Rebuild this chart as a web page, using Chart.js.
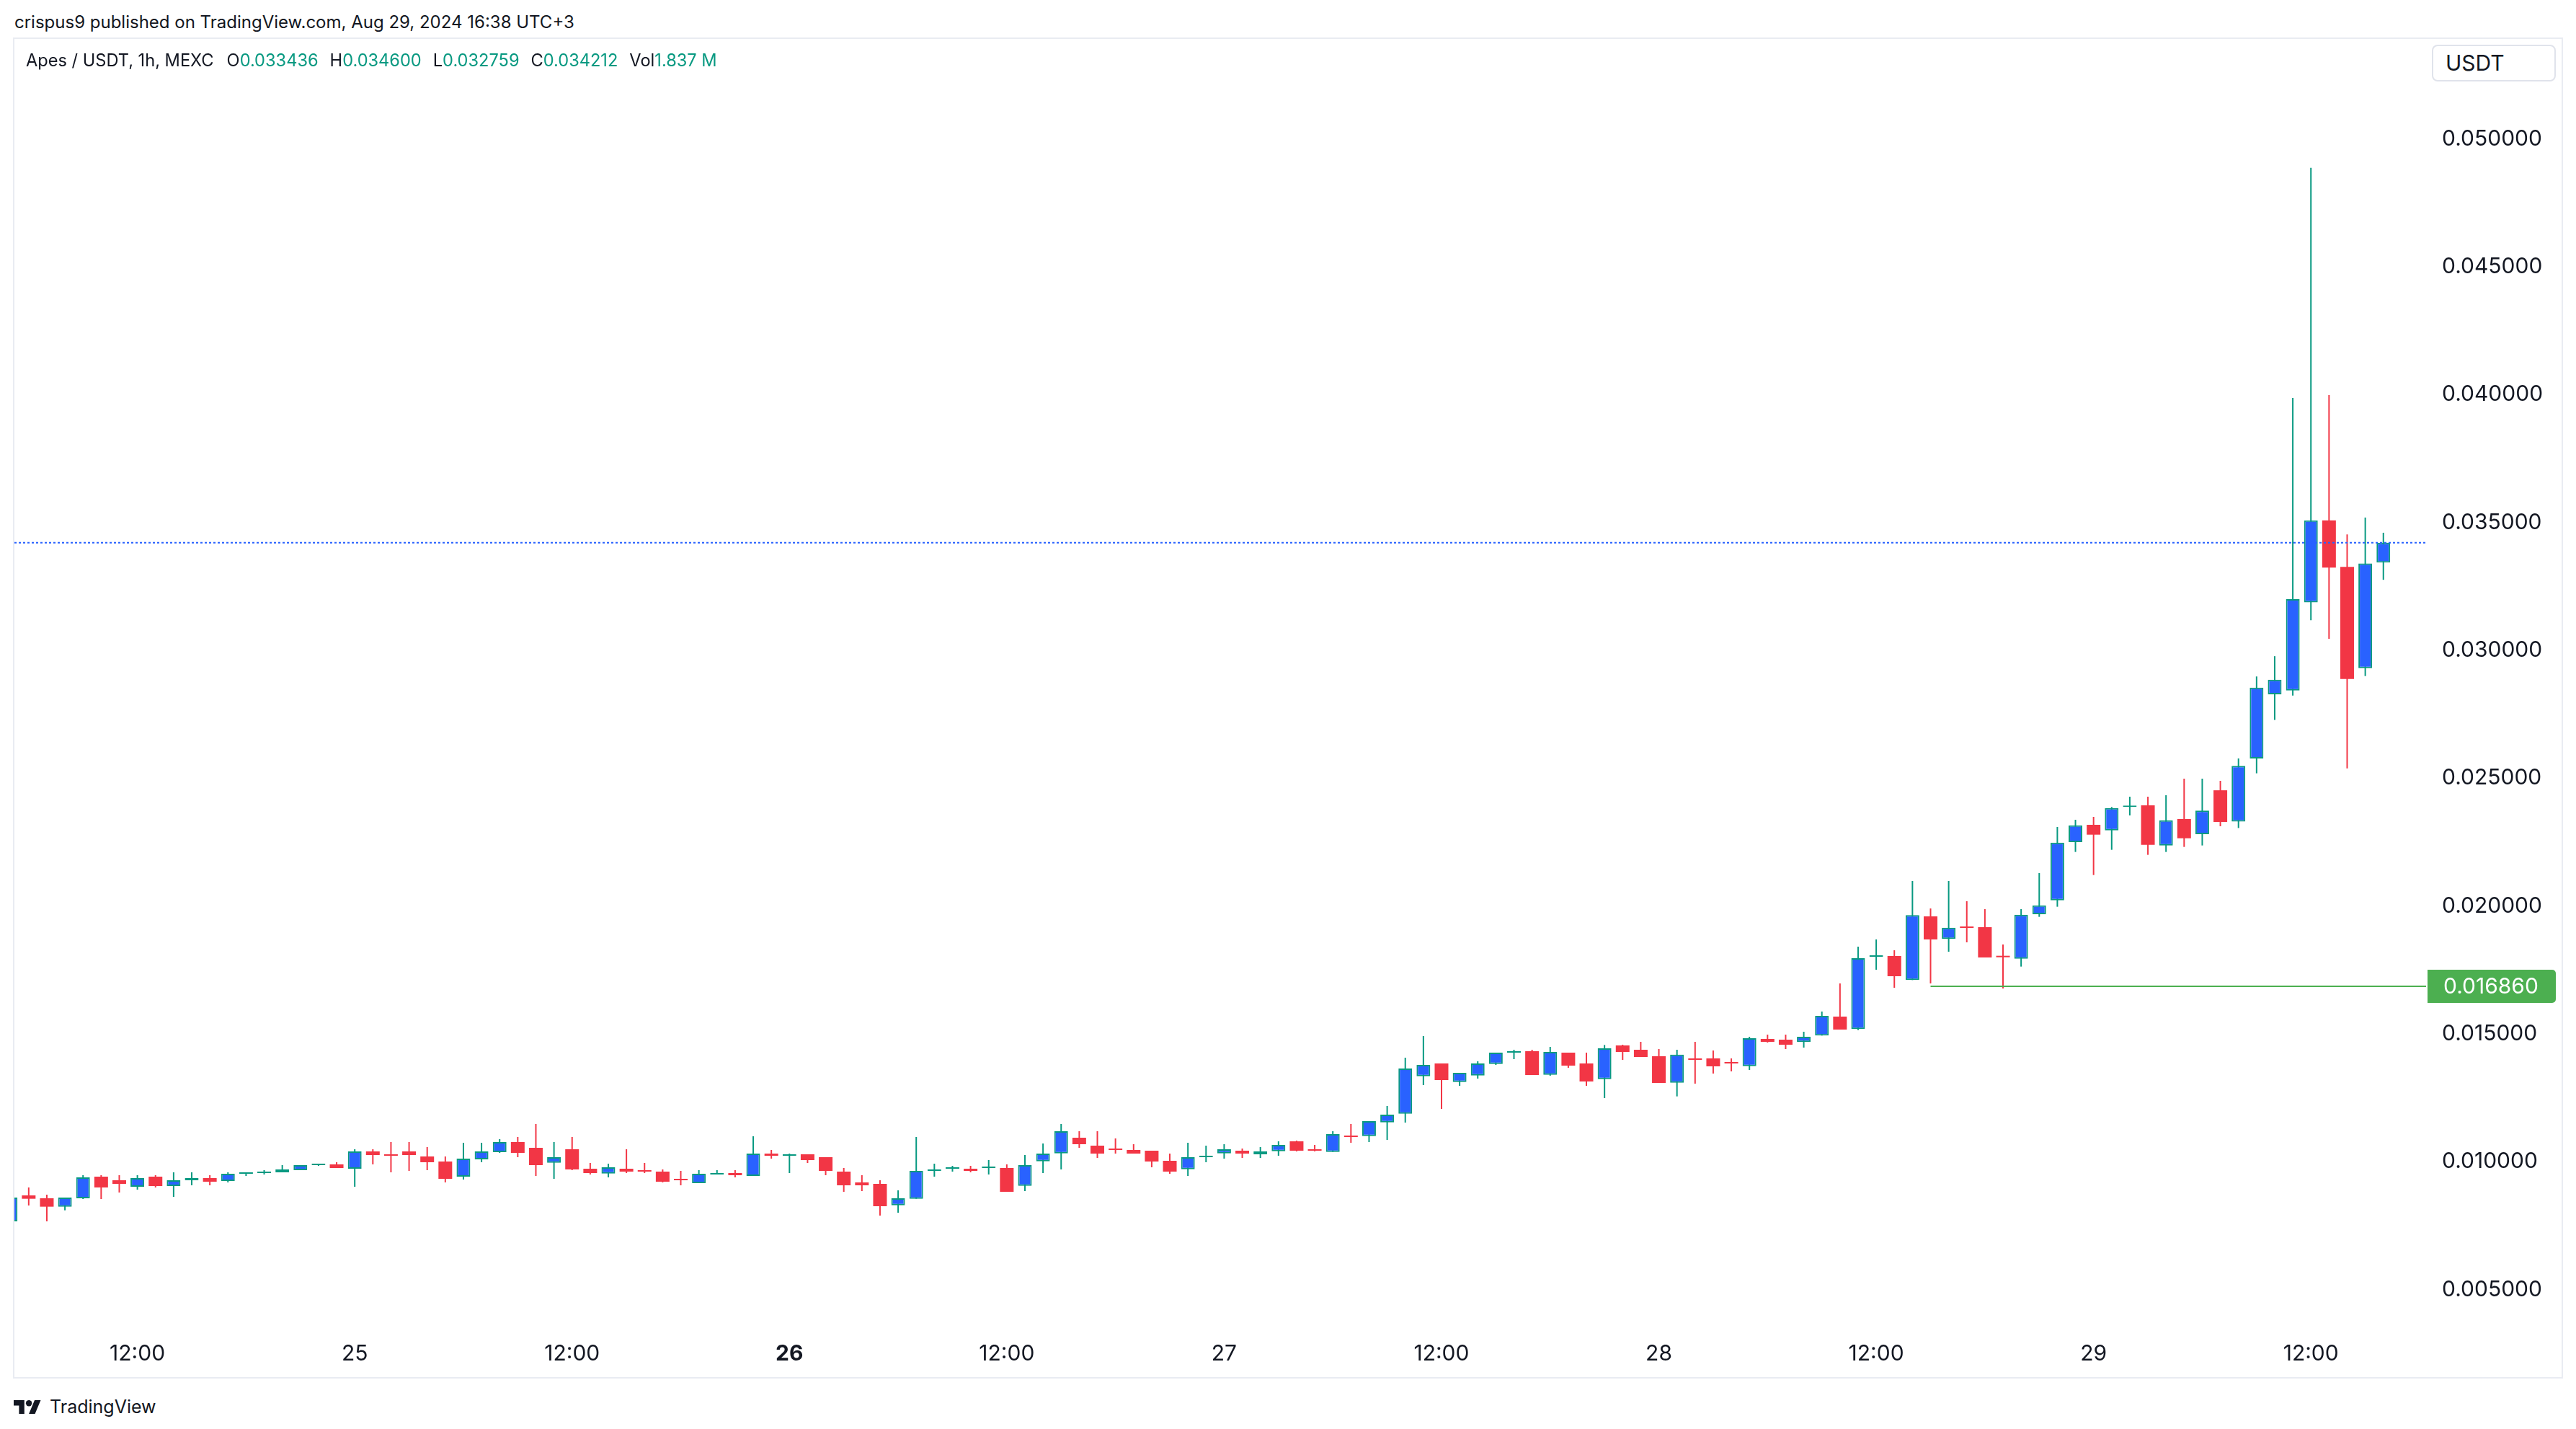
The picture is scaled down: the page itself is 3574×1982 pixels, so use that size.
<!DOCTYPE html>
<html>
<head>
<meta charset="utf-8">
<script src="https://cdn.jsdelivr.net/npm/chart.js@4.4.1/dist/chart.umd.min.js"></script>
<style>
  html, body { margin:0; padding:0; background:#ffffff; width:3574px; height:1982px; overflow:hidden;
    font-family: Inter, "Noto Sans", "Liberation Sans", sans-serif; color:#131722; }
  .abs { position:absolute; white-space:nowrap; }
  #hdr { left:20px; top:15px; font-size:24px; line-height:32px; }
  #panel { position:absolute; left:18px; top:52px; width:3534px; height:1856px; border:2px solid #e9ecf2; }
  #cv { position:absolute; left:0; top:0; }
  #legend { left:36px; top:69px; font-size:23.6px; line-height:30px; display:flex; }
  #legend .g { margin-left:16px; }
  #legend .v { color:#089981; }
  #usdt { left:3374px; top:62px; width:172px; height:51px; box-sizing:border-box; border:2px solid #e0e3eb;
    border-radius:8px; font-size:30px; line-height:47px; padding-left:17px; background:#fff; }
  #footer { left:19px; top:1934px; display:flex; align-items:center; height:34px; font-size:25px; }
  #footer svg { margin-right:12px; }
</style>
</head>
<body>
<div id="hdr" class="abs">crispus9 published on TradingView.com, Aug 29, 2024 16:38 UTC+3</div>
<div id="panel"><canvas id="cv" width="3534" height="1856"></canvas></div>
<div id="legend" class="abs">
  <span>Apes / USDT, 1h, MEXC</span>
  <span class="g" style="margin-left:18px">O<span class="v">0.033436</span></span>
  <span class="g">H<span class="v">0.034600</span></span>
  <span class="g">L<span class="v">0.032759</span></span>
  <span class="g">C<span class="v">0.034212</span></span>
  <span class="g">Vol<span class="v">1.837 M</span></span>
</div>
<div id="usdt" class="abs">USDT</div>
<div id="footer" class="abs">
  <svg width="38" height="19" viewBox="0 4 36 18"><path fill="#131722" d="M14 22H7V11H0V4h14v18zM28 22h-8l7.5-18h8L28 22z"/><circle fill="#131722" cx="20" cy="8" r="4"/></svg>
  <span>TradingView</span>
</div>
<script>
// ---- data (hourly candles, Aug 24 05:00 -> Aug 29 16:00) ----
const opens = [
0.007665,0.008680,0.008568,0.008239,0.008568,0.009414,0.009273,0.009019,0.009414,0.009047,
0.009273,0.009357,0.009244,0.009526,0.009555,0.009583,0.009667,0.009865,0.009893,0.009724,
0.010401,0.010288,0.010401,0.010203,0.010006,0.009414,0.010090,0.010372,0.010767,0.010542,
0.009959,0.010485,0.009724,0.009536,0.009724,0.009667,0.009611,0.009329,0.009160,0.009498,
0.009555,0.009442,0.010316,0.010231,0.010288,0.010175,0.009611,0.009188,0.009132,0.008295,
0.008549,0.009639,0.009724,0.009724,0.009752,0.009752,0.009056,0.010015,0.010325,0.010936,
0.010626,0.010513,0.010457,0.010429,0.010034,0.009705,0.010175,0.010325,0.010429,0.010288,
0.010410,0.010795,0.010485,0.010382,0.011021,0.011002,0.011538,0.011876,0.013343,0.013841,
0.013117,0.013371,0.013822,0.014264,0.014320,0.013399,0.014264,0.013841,0.013230,0.014546,
0.014377,0.014123,0.013089,0.014038,0.014038,0.013897,0.013737,0.014800,0.014771,0.014677,
0.014931,0.015674,0.015185,0.018014,0.018043,0.017103,0.019594,0.018710,0.019199,0.019171,
0.018052,0.017940,0.019679,0.020224,0.022499,0.023176,0.022960,0.023872,0.023937,0.022368,
0.023402,0.022809,0.024526,0.023300,0.025772,0.028282,0.028428,0.031876,0.035081,0.033268,
0.029302,0.033436];
const highs = [
0.008596,0.008991,0.008709,0.008596,0.009470,0.009470,0.009470,0.009470,0.009470,0.009583,
0.009583,0.009470,0.009583,0.009583,0.009667,0.009865,0.009865,0.009921,0.009978,0.010485,
0.010485,0.010767,0.010767,0.010570,0.010203,0.010739,0.010739,0.010880,0.010965,0.011472,
0.010767,0.010965,0.009949,0.009921,0.010485,0.009949,0.009696,0.009639,0.009667,0.009667,
0.009667,0.010993,0.010457,0.010316,0.010288,0.010175,0.009752,0.009470,0.009273,0.008878,
0.010965,0.009921,0.009837,0.009837,0.010062,0.009893,0.010260,0.010711,0.011472,0.011190,
0.011190,0.010908,0.010682,0.010429,0.010316,0.010739,0.010626,0.010682,0.010513,0.010570,
0.010795,0.010824,0.010654,0.011190,0.011472,0.011585,0.012177,0.014067,0.014913,0.013841,
0.013474,0.013926,0.014264,0.014377,0.014377,0.014490,0.014264,0.014264,0.014565,0.014574,
0.014687,0.014405,0.014377,0.014687,0.014348,0.014038,0.014884,0.014969,0.014969,0.015082,
0.015871,0.016971,0.018409,0.018691,0.018268,0.020976,0.019904,0.020976,0.020186,0.019876,
0.018494,0.019876,0.021287,0.023091,0.023373,0.023486,0.023872,0.024276,0.024276,0.024332,
0.024981,0.024981,0.024896,0.025772,0.028978,0.029771,0.039873,0.048874,0.039986,0.034531,
0.035195,0.034600];
const lows = [
0.007665,0.008286,0.007665,0.008097,0.008539,0.008539,0.008793,0.008906,0.008991,0.008624,
0.009075,0.009075,0.009188,0.009442,0.009498,0.009583,0.009667,0.009836,0.009752,0.009019,
0.009893,0.009583,0.009639,0.009667,0.009188,0.009301,0.009978,0.010344,0.010175,0.009442,
0.009329,0.009667,0.009498,0.009385,0.009555,0.009555,0.009188,0.009075,0.009160,0.009498,
0.009385,0.009442,0.010119,0.009555,0.009949,0.009470,0.008821,0.008849,0.007891,0.008003,
0.008549,0.009414,0.009611,0.009583,0.009498,0.008821,0.008849,0.009555,0.009696,0.010542,
0.010147,0.010316,0.010316,0.009780,0.009526,0.009442,0.009977,0.010118,0.010147,0.010147,
0.010231,0.010401,0.010401,0.010382,0.010739,0.010767,0.010852,0.011529,0.012995,0.012064,
0.012967,0.013249,0.013785,0.014010,0.013390,0.013362,0.013672,0.012967,0.012487,0.013982,
0.014095,0.013079,0.012553,0.013051,0.013446,0.013530,0.013587,0.014659,0.014405,0.014461,
0.014931,0.015166,0.015147,0.017507,0.016802,0.017103,0.016971,0.018212,0.018578,0.017986,
0.016774,0.017630,0.019576,0.019971,0.022114,0.021211,0.022198,0.023543,0.022001,0.022114,
0.022311,0.022368,0.023119,0.023050,0.025190,0.027278,0.028234,0.031180,0.030451,0.025384,
0.028994,0.032759];
const closes = [
0.008596,0.008549,0.008239,0.008596,0.009385,0.008991,0.009132,0.009357,0.009047,0.009273,
0.009357,0.009216,0.009526,0.009583,0.009611,0.009696,0.009865,0.009921,0.009752,0.010401,
0.010260,0.010232,0.010260,0.009978,0.009329,0.010119,0.010401,0.010767,0.010344,0.009865,
0.010175,0.009696,0.009555,0.009780,0.009611,0.009611,0.009216,0.009273,0.009526,0.009555,
0.009470,0.010316,0.010231,0.010297,0.010062,0.009639,0.009075,0.009075,0.008257,0.008567,
0.009639,0.009696,0.009780,0.009639,0.009808,0.008821,0.009865,0.010316,0.011190,0.010683,
0.010316,0.010457,0.010316,0.010006,0.009611,0.010175,0.010231,0.010485,0.010316,0.010401,
0.010654,0.010429,0.010429,0.011077,0.010965,0.011585,0.011839,0.013644,0.013785,0.013192,
0.013474,0.013841,0.014264,0.014320,0.013390,0.014292,0.013756,0.013136,0.014433,0.014292,
0.014095,0.013079,0.014189,0.013982,0.013728,0.013841,0.014828,0.014687,0.014574,0.014884,
0.015702,0.015166,0.017958,0.018071,0.017253,0.019641,0.018691,0.019152,0.019143,0.017986,
0.017996,0.019660,0.020027,0.022480,0.023157,0.022790,0.023834,0.023928,0.022396,0.023355,
0.022650,0.023731,0.023288,0.025481,0.028541,0.028849,0.032006,0.035081,0.033236,0.028881,
0.033398,0.034212];

// time axis: hour index of each tick and its label
const xTickIndex  = [7, 19, 31, 43, 55, 67, 79, 91, 103, 115, 127];
const xTickLabels = ['12:00','25','12:00','26','12:00','27','12:00','28','12:00','29','12:00'];
const boldTickIndex = 43;
// price axis ticks
const yTickValues = [0.005,0.010,0.015,0.020,0.025,0.030,0.035,0.040,0.045,0.050];
// horizontal levels
const LAST_PRICE = 0.034212;
const LEVEL_PRICE = 0.016860;
const LEVEL_START = 106;
// visible ranges
const X_MIN = 0.211, X_MAX = 133.358;
const Y_MIN = 0.0032092, Y_MAX = 0.053915;

// ---- styling ----
const TEAL = '#089981', BLUE = '#2962ff', RED = '#f23645', GREEN = '#4caf50', TXT = '#131722';
const FONT = 'Inter, "Noto Sans", sans-serif';
const AXIS_W = 188, TIME_H = 58, LABEL_LEFT = 22;

const idx = opens.map((_, i) => i);
const up = idx.map(i => closes[i] >= opens[i]);

const levelLabel = {
  id: 'levelLabel',
  afterDatasetsDraw(chart) {
    const { ctx } = chart;
    const y = chart.scales.y;
    const py = y.getPixelForValue(LEVEL_PRICE);
    const left = y.left + 2, right = y.right - 8, h = 46;
    ctx.save();
    ctx.fillStyle = GREEN;
    ctx.beginPath();
    ctx.roundRect(left, py - h / 2, right - left, h, [0, 5, 5, 0]);
    ctx.fill();
    ctx.fillStyle = '#ffffff';
    ctx.font = '30px ' + FONT;
    ctx.textAlign = 'left';
    ctx.textBaseline = 'middle';
    ctx.fillText(LEVEL_PRICE.toFixed(6), y.left + LABEL_LEFT + 2, py + 1);
    ctx.restore();
  }
};

new Chart(document.getElementById('cv'), {
  type: 'bar',
  data: {
    datasets: [
      { type: 'line', data: [{x: X_MIN, y: LAST_PRICE}, {x: X_MAX, y: LAST_PRICE}],
        borderColor: BLUE, borderWidth: 2, borderDash: [3, 3], pointRadius: 0, order: 0 },
      { type: 'line', data: [{x: LEVEL_START, y: LEVEL_PRICE}, {x: X_MAX, y: LEVEL_PRICE}],
        borderColor: GREEN, borderWidth: 2, pointRadius: 0, order: 0 },
      { type: 'bar', data: idx.map(i => ({x: i, y: [opens[i], closes[i]]})),
        backgroundColor: idx.map(i => up[i] ? BLUE : RED),
        borderColor: idx.map(i => up[i] ? TEAL : RED),
        borderWidth: idx.map(i => up[i] ? 2 : 0),
        borderSkipped: false, barThickness: 19, minBarLength: 2, grouped: false,
        inflateAmount: 0, order: 1 },
      { type: 'bar', data: idx.map(i => ({x: i, y: [lows[i], highs[i]]})),
        backgroundColor: idx.map(i => up[i] ? TEAL : RED),
        borderWidth: 0, barThickness: 2, grouped: false, inflateAmount: 0, order: 2 }
    ]
  },
  options: {
    responsive: false, animation: false, devicePixelRatio: 1,
    layout: { padding: 0 },
    plugins: { legend: { display: false }, tooltip: { enabled: false } },
    scales: {
      x: {
        type: 'linear', min: X_MIN, max: X_MAX, offset: false,
        grid: { display: false, drawTicks: false }, border: { display: false },
        afterBuildTicks: s => { s.ticks = xTickIndex.map(v => ({ value: v })); },
        afterFit: s => { s.height = TIME_H; s.paddingLeft = 0; s.paddingRight = 0; },
        ticks: {
          autoSkip: false, maxRotation: 0, padding: 8, color: TXT,
          font: ctx => ({ family: FONT, size: 30,
            weight: (ctx.tick && ctx.tick.value === boldTickIndex) ? 'bold' : 'normal' }),
          callback: v => xTickLabels[xTickIndex.indexOf(v)]
        }
      },
      y: {
        type: 'linear', position: 'right', min: Y_MIN, max: Y_MAX,
        grid: { display: false, drawTicks: false }, border: { display: false },
        afterBuildTicks: s => { s.ticks = yTickValues.map(v => ({ value: v })); },
        afterFit: s => { s.width = AXIS_W; s.paddingTop = 0; s.paddingBottom = 0; },
        ticks: { crossAlign: 'near', padding: LABEL_LEFT, color: TXT, font: { family: FONT, size: 30 },
          callback: v => v.toFixed(6) }
      }
    }
  },
  plugins: [levelLabel]
});
</script>
</body>
</html>
